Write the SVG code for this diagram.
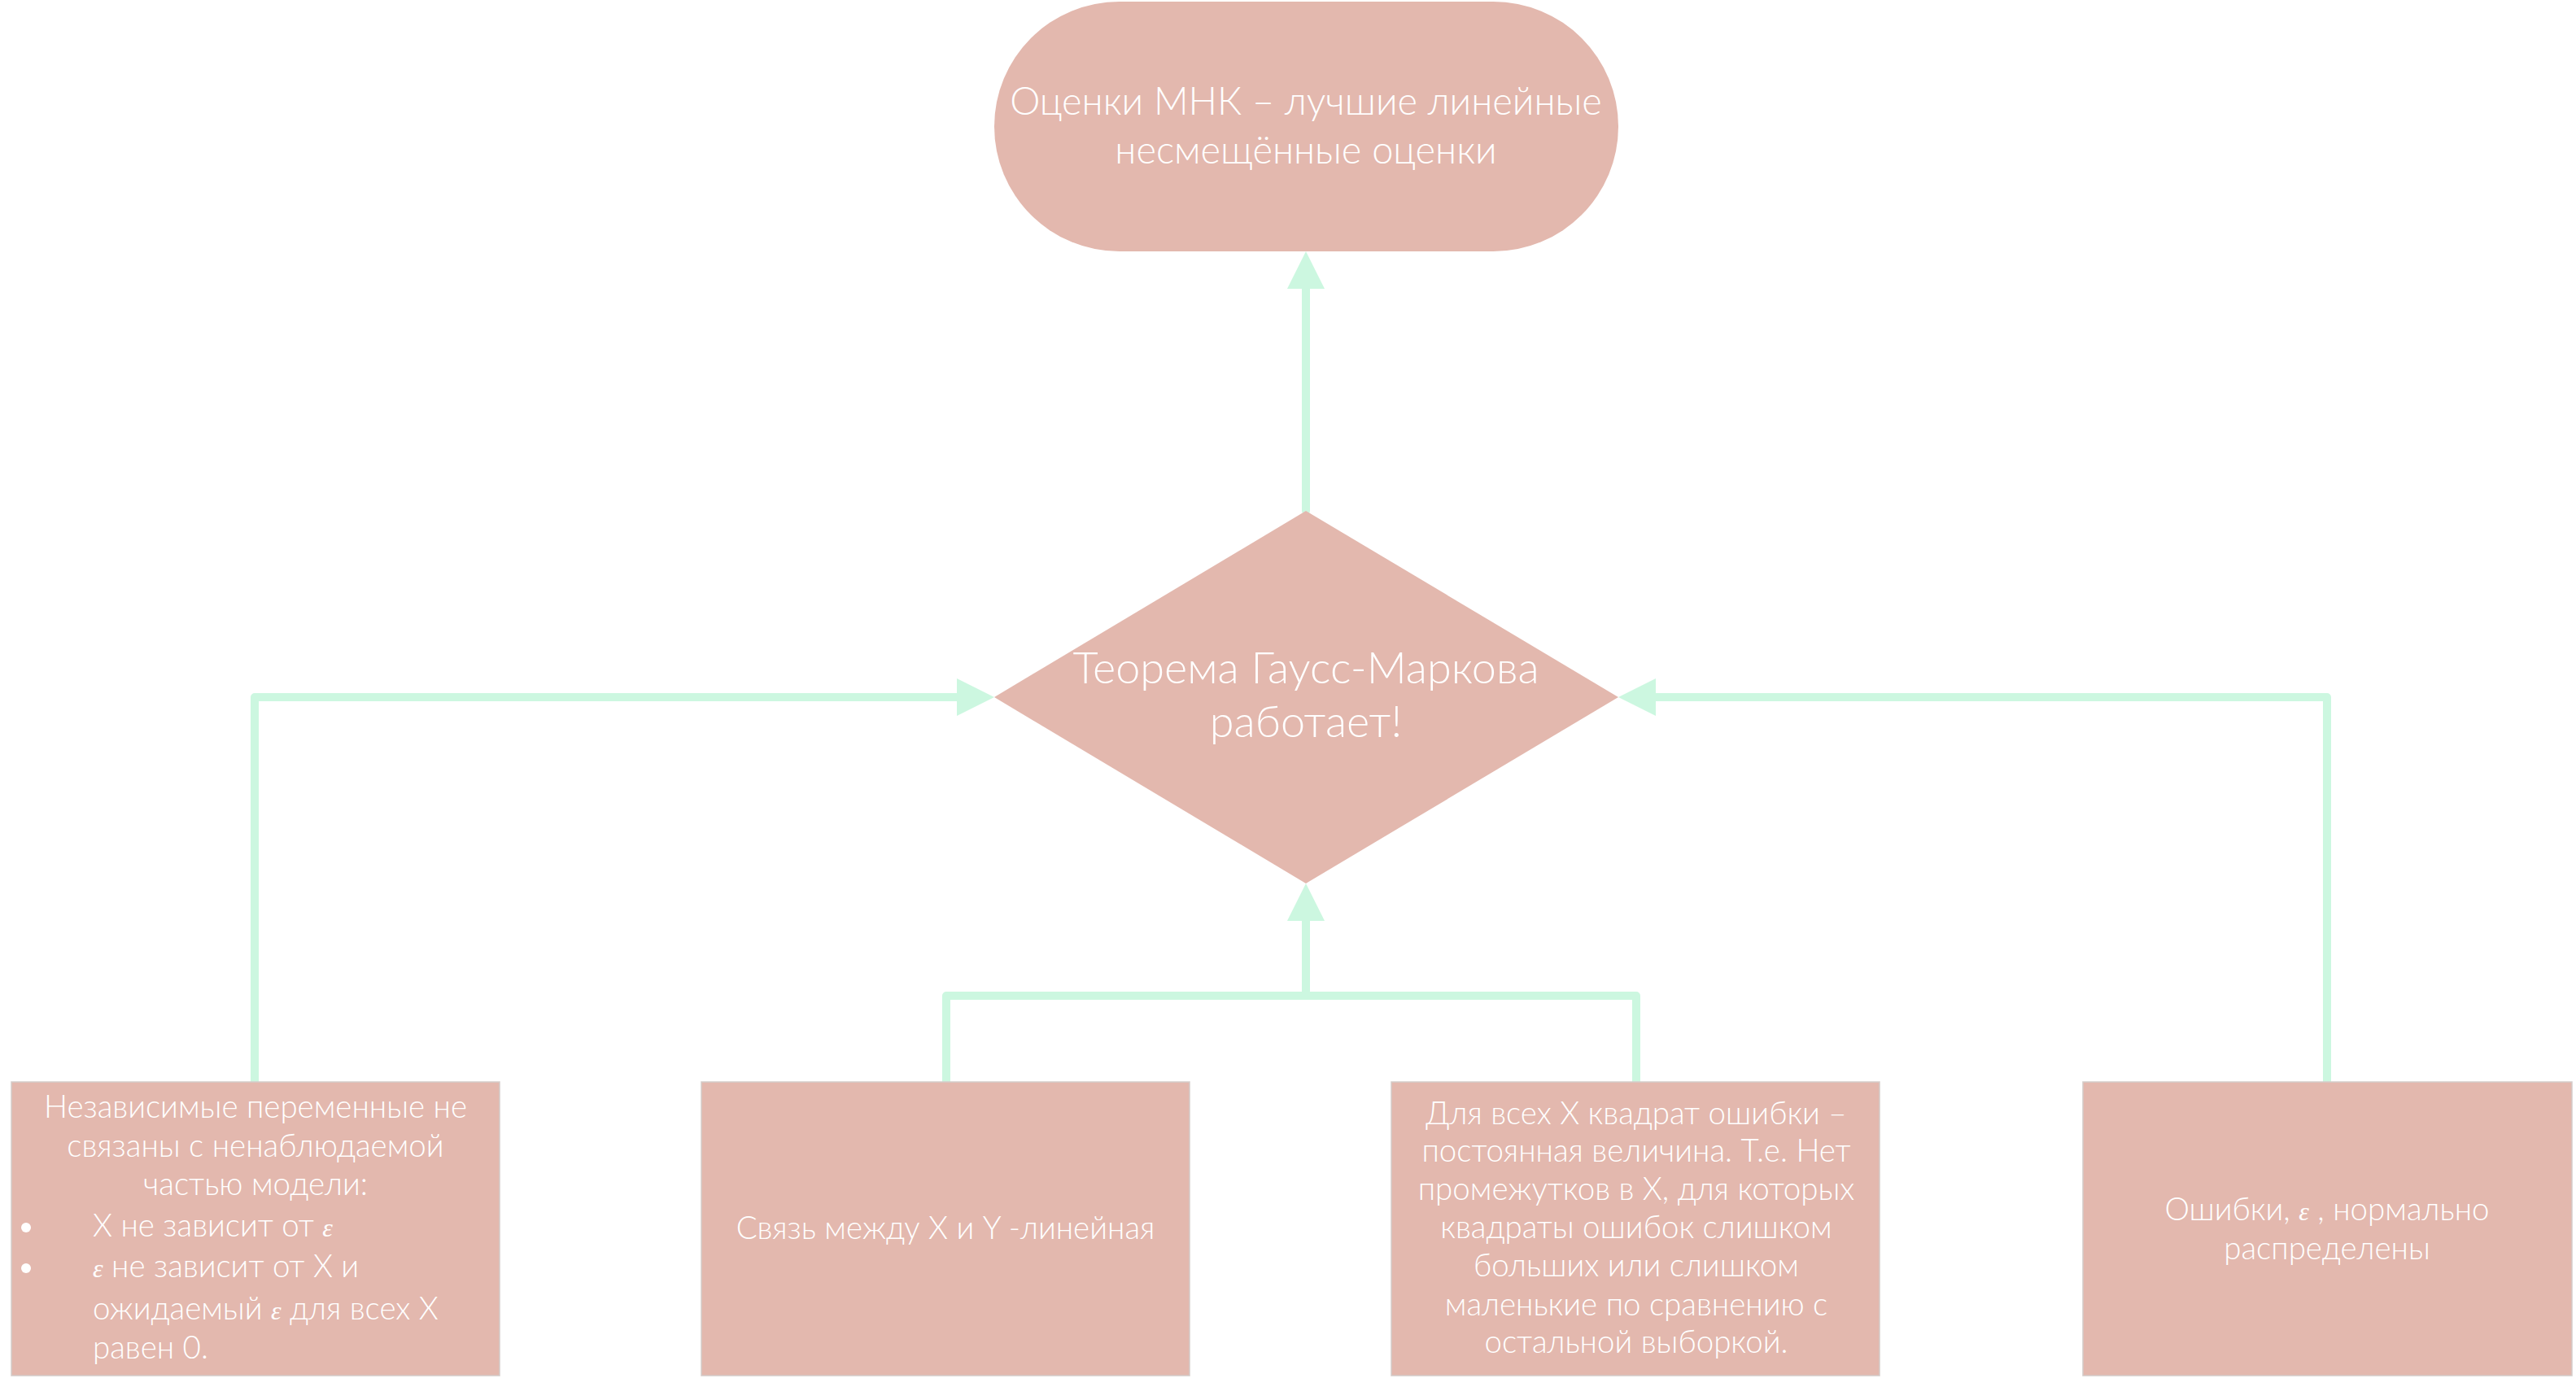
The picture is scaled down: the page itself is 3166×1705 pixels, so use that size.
<svg xmlns="http://www.w3.org/2000/svg" width="3166" height="1705" viewBox="0 0 3166 1705">
<style>
.shape{fill:#E3B8AE}
.box{fill:#E3B8AE;stroke:#d3cbc9;stroke-width:1.5}
.t{fill:#ffffff;font-family:Lato,"Noto Sans",sans-serif;font-weight:300;text-anchor:middle}
.tl{fill:#ffffff;font-family:Lato,"Noto Sans",sans-serif;font-weight:300;text-anchor:start}
.big{font-size:47px}
.dia{font-size:54px}
.sm{font-size:38.5px}
.eps{font-family:"Liberation Serif","DejaVu Serif",serif;font-style:italic;font-weight:400;font-size:32px}
.conn{fill:none;stroke:#CCF7E0;stroke-width:10;stroke-linecap:round;stroke-linejoin:round}
</style>
<defs>
<marker id="arr" markerUnits="userSpaceOnUse" markerWidth="48" markerHeight="48" refX="0" refY="23" orient="auto" viewBox="0 0 48 46">
<path d="M0,0 L46,23 L0,46 z" fill="#CCF7E0"/>
</marker>
</defs>
<rect width="3166" height="1705" fill="#ffffff"/>

<g id="connectors">
<path class="conn" d="M1605,628 V355" marker-end="url(#arr)"/>
<path class="conn" d="M313,1333 V857 H1176" marker-end="url(#arr)"/>
<path class="conn" d="M2860,1333 V857 H2035" marker-end="url(#arr)"/>
<path class="conn" d="M1163,1333 V1224 H2011 V1333"/>
<path class="conn" d="M1605,1224 V1132" marker-end="url(#arr)"/>
</g>

<g id="node-ols">
<rect class="shape" x="1222" y="2" width="767" height="307" rx="153.5" ry="153.5"/>
<text class="t big" x="1605" y="141">Оценки МНК – лучшие линейные</text>
<text class="t big" x="1605" y="201">несмещённые оценки</text>
</g>

<g id="node-theorem">
<polygon class="shape" points="1605,628 1989,857 1605,1086 1222,857"/>
<text class="t dia" x="1605" y="840">Теорема Гаусс-Маркова</text>
<text class="t dia" x="1605" y="906">работает!</text>
</g>

<g id="node-independence">
<rect class="box" x="14" y="1330" width="600" height="361"/>
<text class="t sm" x="314" y="1374">Независимые переменные не</text>
<text class="t sm" x="314" y="1422">связаны с ненаблюдаемой</text>
<text class="t sm" x="314" y="1469">частью модели:</text>
<circle cx="32" cy="1509" r="6" fill="#ffffff"/>
<circle cx="32" cy="1559" r="6" fill="#ffffff"/>
<text class="tl sm" x="114" y="1520">X не зависит от <tspan class="eps">ε</tspan></text>
<text class="tl sm" x="114" y="1570"><tspan class="eps">ε</tspan> не зависит от X и</text>
<text class="tl sm" x="114" y="1622">ожидаемый <tspan class="eps">ε</tspan> для всех X</text>
<text class="tl sm" x="114" y="1670">равен 0.</text>
</g>

<g id="node-linear">
<rect class="box" x="862" y="1330" width="600" height="361"/>
<text class="t sm" x="1162" y="1523">Связь между X и Y -линейная</text>
</g>

<g id="node-homoscedasticity">
<rect class="box" x="1710" y="1330" width="600" height="361"/>
<text class="t sm" x="2011" y="1382">Для всех X квадрат ошибки –</text>
<text class="t sm" x="2011" y="1428">постоянная величина. Т.е. Нет</text>
<text class="t sm" x="2011" y="1475">промежутков в X, для которых</text>
<text class="t sm" x="2011" y="1522">квадраты ошибок слишком</text>
<text class="t sm" x="2011" y="1569">больших или слишком</text>
<text class="t sm" x="2011" y="1617">маленькие по сравнению с</text>
<text class="t sm" x="2011" y="1663">остальной выборкой.</text>
</g>

<g id="node-normal">
<rect class="box" x="2560" y="1330" width="601" height="361"/>
<text class="t sm" x="2860" y="1500">Ошибки, <tspan class="eps">ε</tspan> , нормально</text>
<text class="t sm" x="2860" y="1548">распределены</text>
</g>
</svg>
